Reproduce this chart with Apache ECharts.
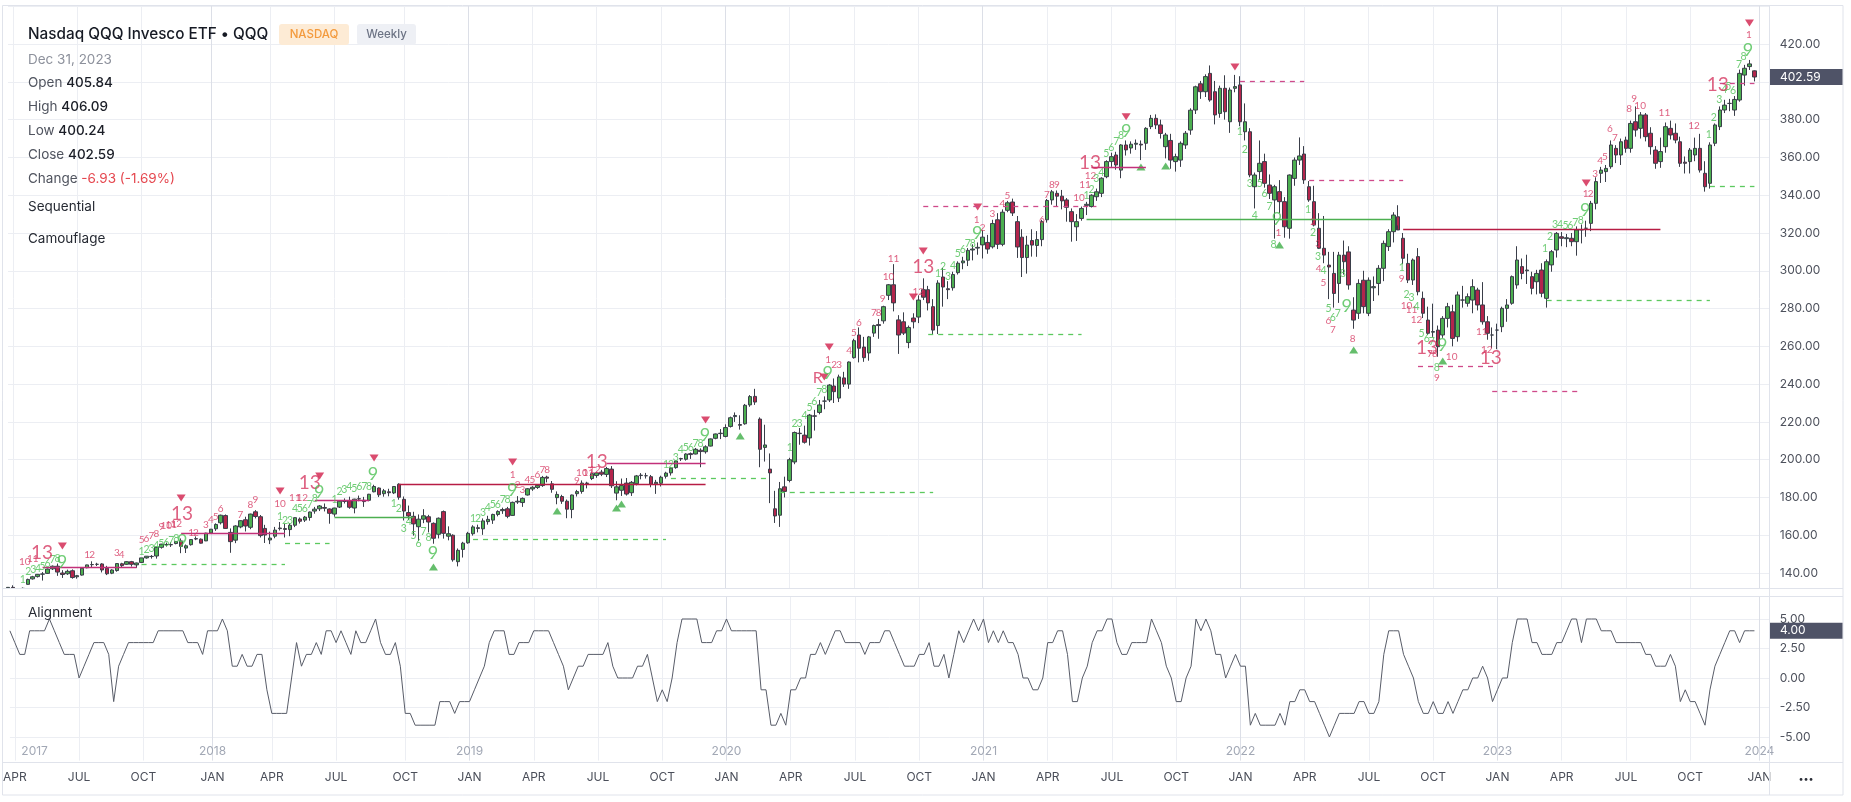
<!DOCTYPE html>
<html><head><meta charset="utf-8">
<script src="https://cdn.jsdelivr.net/npm/echarts@6/dist/echarts.min.js"></script>
<style>html,body{margin:0;padding:0;background:#fff;overflow:hidden}#c{width:1851px;height:802px}</style>
</head><body><div id="c"></div>
<script>
// ---------- DATA ----------
const firstWeek = '2017-03-26';   // weekly bars, dated by week start (Sunday)
const weekSlots = 357;            // bars + empty future weeks on the right
const monthNames = ['JAN','FEB','MAR','APR','MAY','JUN','JUL','AUG','SEP','OCT','NOV','DEC'];
const yearTicks = [['2017-04-30','2017'],['2018-01-07','2018'],['2019-01-06','2019'],['2020-01-05','2020'],['2021-01-03','2021'],['2022-01-02','2022'],['2023-01-01','2023'],['2024-01-07','2024']];
const priceTicks = [140,160,180,200,220,240,260,280,300,320,340,360,380,400,420];
const alignTicks = [-5,-2.5,0,2.5,5];

// [open, high, low, close]
const bars2017 = [
[131.0,132.5,130.5,132.4],[132.4,133.5,131.2,131.8],[131.6,132.0,129.9,130.1],[130.3,132.3,129.8,131.9],[134.0,137.0,133.8,136.6],
[136.9,138.5,136.5,138.0],[138.1,139.5,137.6,139.3],[139.4,140.5,136.0,139.5],[139.8,142.4,139.5,142.1],[142.2,144.0,141.6,143.6],
[143.6,145.0,138.5,140.5],[140.0,141.5,137.4,139.2],[139.6,141.8,139.0,140.9],[141.2,141.9,137.0,137.6],[138.0,139.0,137.0,138.6],
[138.9,142.6,138.6,142.5],[142.8,144.4,142.5,144.3],[144.5,146.2,142.7,144.4],[144.6,145.4,143.7,144.6],[144.8,145.2,140.3,141.6],
[142.5,143.8,138.9,139.6],[139.9,142.0,139.4,141.6],[141.3,145.2,140.7,145.0],[144.9,145.4,143.2,143.9],[144.6,146.3,144.3,146.0],
[146.0,146.4,143.4,144.6],[144.3,145.5,142.7,145.3],[145.6,148.0,145.3,148.0],[148.0,149.0,147.6,148.9],[148.8,149.5,147.6,148.7],
[149.0,153.8,147.6,153.6],[153.6,155.4,152.9,155.3],[155.0,156.1,154.0,155.1],[154.9,156.2,153.8,155.1],[155.6,156.9,155.2,156.7],
[157.0,158.3,150.5,154.1],[153.2,155.1,150.6,154.4],[155.0,157.8,154.5,157.7],[158.2,159.4,157.4,158.0],[157.9,158.3,155.6,155.8],
[157.0,161.3,156.9,161.1]];
const bars2018 = [
[161.2,163.3,160.7,163.2],[163.4,166.3,162.3,165.7],[166.6,170.9,165.7,170.6],[170.4,171.0,163.3,163.6],[161.5,163.6,150.7,156.6],
[157.4,165.3,155.8,164.9],[164.4,167.9,163.7,167.7],[168.2,169.8,162.0,164.9],[164.2,171.4,163.2,171.2],[172.4,173.3,168.9,169.9],
[169.8,170.7,158.8,159.8],[163.6,165.5,155.9,160.1],[157.5,161.9,155.3,158.5],[159.5,164.4,158.4,162.7],[163.8,167.0,162.5,163.5],
[163.5,166.0,158.8,163.1],[163.0,166.3,159.5,165.3],[165.3,169.5,164.3,169.3],[168.6,169.4,166.2,167.4],[168.0,170.2,167.0,169.6],
[169.4,172.5,167.7,172.3],[172.8,175.0,171.4,173.8],[174.0,176.0,172.8,175.5],[174.7,176.8,172.6,174.3],[173.9,174.2,166.1,171.6],
[171.2,174.5,169.8,174.4],[174.9,178.2,174.4,178.0],[177.9,179.5,176.8,177.9],[178.3,180.4,174.0,174.8],[174.4,179.3,171.6,179.1],
[179.3,181.0,178.0,179.2],[178.5,180.3,175.0,177.8],[178.5,181.9,178.0,181.7],[183.0,186.7,182.7,185.8],[185.0,185.3,180.2,181.4],
[182.0,184.5,180.4,183.5],[183.0,184.6,180.6,182.5],[182.4,186.0,181.8,185.8],[187.0,187.5,178.8,180.1],[179.0,180.5,167.8,172.8],
[172.0,175.7,168.0,170.2],[170.0,172.4,159.8,166.0],[164.5,171.0,157.0,168.5],[168.5,173.8,166.4,170.3],[169.8,170.8,161.5,167.0],
[166.3,166.8,155.5,158.4],[160.5,169.4,158.3,169.0],[172.5,173.1,158.2,161.0],[159.5,164.7,157.3,160.8],[160.0,160.5,146.0,147.0],
[146.0,153.0,143.5,152.0],[152.5,156.5,148.2,155.8]];
const bars2019 = [
[156.0,161.8,155.5,161.0],[160.8,165.3,159.8,164.4],[164.0,165.6,161.5,163.6],[163.4,168.9,160.2,167.6],[167.2,170.3,165.6,168.4],
[168.0,171.4,166.0,171.0],[171.0,173.2,170.0,172.6],[173.0,174.6,171.3,173.6],[174.0,175.0,169.0,170.0],[170.5,177.8,170.3,177.4],
[177.6,180.7,176.6,178.0],[177.3,180.0,175.0,179.5],[181.3,185.0,181.0,184.6],[184.5,186.0,183.5,185.4],[185.3,186.9,184.5,186.4],
[186.3,191.4,185.6,190.6],[190.8,191.5,188.0,190.2],[187.2,188.7,182.5,184.3],[179.9,183.2,176.4,181.6],[180.5,181.4,176.6,178.0],
[178.0,178.9,169.0,173.8],[173.6,181.5,169.0,181.3],[182.0,184.0,180.5,183.1],[183.2,189.0,182.0,187.6],[187.6,188.3,184.8,187.4],
[190.0,193.3,189.2,192.6],[191.6,193.6,190.4,193.0],[193.4,194.6,191.3,192.3],[192.2,196.2,190.8,195.3],[195.0,196.6,185.0,186.2],
[182.3,188.6,178.5,185.6],[183.8,190.0,180.8,186.3],[187.6,190.3,181.0,181.8],[182.5,188.7,180.8,188.0],[187.3,191.9,186.4,191.4],
[191.6,192.9,189.6,191.8],[191.5,193.0,190.0,191.5],[191.0,191.9,185.4,187.0],[187.2,189.3,181.9,188.0],[187.5,191.5,185.8,190.7],
[191.2,193.6,190.0,192.9],[193.0,196.0,191.6,195.5],[195.8,199.5,195.2,199.3],[200.4,201.0,199.3,200.6],[200.2,203.4,199.5,203.0],
[203.2,203.8,200.4,202.7],[203.0,206.2,202.8,205.5],[205.0,206.0,196.0,204.3],[204.2,207.6,203.2,206.8],[207.2,211.2,207.0,211.0],
[211.3,213.8,210.8,213.6],[213.8,216.2,210.9,214.0]];
const bars2020 = [
[212.3,218.7,211.8,217.0],[217.6,222.8,217.0,222.2],[222.8,225.0,220.0,223.4],[218.6,223.5,215.9,218.2],[219.0,229.5,218.5,228.8],
[229.0,234.2,228.0,233.4],[233.5,237.5,229.0,230.5],[221.5,222.4,196.0,205.5],[206.5,218.5,199.0,207.8],[195.0,203.3,177.0,193.0],
[174.0,183.5,166.5,170.2],[170.6,188.2,164.4,184.6],[185.6,191.0,180.0,183.2],[189.0,201.0,188.0,200.0],[198.8,214.9,197.6,214.4],
[213.8,216.8,207.9,214.0],[213.0,218.0,208.5,209.2],[211.5,224.2,207.5,223.6],[223.2,226.4,215.4,223.0],[225.0,231.6,224.0,229.0],
[231.0,233.5,226.7,231.0],[231.6,240.0,230.5,239.5],[239.0,243.0,230.0,236.0],[232.6,245.0,230.5,243.8],[243.3,246.5,238.5,240.0],
[240.0,252.0,237.5,251.7],[254.0,264.0,253.5,263.0],[266.0,270.0,251.5,259.0],[259.6,265.0,251.8,254.0],[256.5,265.5,252.4,265.0],
[267.0,271.5,265.0,271.0],[271.5,274.5,264.0,271.0],[273.5,281.5,272.0,281.0],[287.0,293.0,284.5,292.6],[292.6,303.5,278.5,283.0],
[274.0,276.5,256.0,266.0],[273.0,278.0,266.0,267.0],[262.0,271.0,259.0,270.0],[275.0,277.5,269.5,273.0],[275.5,287.0,272.3,284.5],
[290.0,296.0,284.5,286.0],[290.0,292.0,279.0,283.0],[281.0,285.0,266.5,268.6],[271.0,295.0,266.5,293.5],[296.7,301.5,281.0,291.4],
[290.5,294.5,285.0,290.0],[291.0,299.5,289.5,298.0],[299.0,305.0,298.0,304.0],[304.2,307.4,300.8,305.2],[305.6,312.0,302.5,310.8],
[311.0,314.0,305.5,311.5],[312.0,315.0,308.5,312.4]];
const bars2021 = [
[313.7,321.5,306.5,317.8],[315.0,319.0,309.0,311.5],[312.7,327.0,311.8,325.0],[327.0,330.5,311.5,314.0],[314.0,332.5,313.0,331.0],
[332.0,337.0,331.0,336.0],[336.4,338.2,329.0,330.6],[326.0,329.0,306.8,312.6],[317.8,322.0,296.7,307.0],[307.0,318.5,298.5,313.6],
[316.0,322.0,307.5,313.6],[313.4,321.0,307.4,316.5],[316.5,327.0,313.0,326.0],[327.0,338.0,325.5,337.2],[337.5,342.8,335.0,341.8],
[341.0,342.5,334.0,339.5],[339.5,342.8,332.5,337.0],[337.5,338.5,326.0,333.6],[331.3,333.0,315.4,326.0],[323.3,330.0,315.8,326.0],
[327.7,334.0,326.5,333.0],[334.6,336.5,329.5,335.2],[334.0,340.5,333.5,340.0],[339.2,343.5,337.0,341.8],[341.0,349.5,339.0,349.0],
[349.8,358.5,349.0,357.8],[357.8,362.5,355.0,360.4],[361.3,363.0,353.5,356.0],[353.3,367.0,349.0,366.6],[366.6,369.0,361.0,364.0],
[365.0,368.5,362.0,367.0],[367.0,369.5,364.0,367.5],[367.0,369.0,358.6,366.6],[367.5,376.0,364.0,375.4],[376.3,382.5,375.0,380.7],
[380.7,382.8,375.0,377.2],[377.2,380.0,370.0,372.7],[365.7,373.0,359.5,371.9],[369.0,372.5,354.0,358.6],[357.8,362.0,352.5,360.4],
[358.6,368.5,355.0,367.5],[366.6,374.0,364.5,372.8],[374.5,386.0,372.0,385.0],[385.1,398.0,383.0,397.4],[399.0,400.5,391.0,394.8],
[394.8,404.0,392.0,402.8],[404.5,408.7,389.5,390.4],[394.8,400.5,377.5,382.5],[383.3,398.0,381.0,396.6],[396.6,403.5,380.0,384.2],
[378.9,397.0,373.0,395.7],[396.6,403.7,394.5,397.5]];
const bars2022 = [
[398.4,403.0,376.5,378.9],[373.6,388.6,369.0,378.9],[373.6,375.5,349.5,350.7],[344.5,352.0,333.0,350.7],[352.5,369.0,348.0,356.9],
[357.8,362.0,344.0,346.3],[345.4,351.0,338.0,341.0],[337.5,345.5,317.0,344.5],[341.9,348.0,330.5,336.6],[336.6,339.0,317.5,323.3],
[322.5,351.0,317.0,350.7],[348.9,360.0,345.0,358.6],[358.6,370.6,356.0,360.8],[361.8,366.0,346.0,348.1],[344.5,347.5,336.5,337.5],
[336.6,345.0,323.5,324.2],[322.5,330.5,311.5,311.9],[311.9,329.0,304.0,308.3],[303.0,310.0,285.0,302.0],[298.6,310.0,280.5,288.0],
[293.3,310.0,283.0,308.3],[308.3,316.0,298.0,304.8],[310.0,313.0,290.0,292.5],[279.2,286.0,269.3,273.9],[277.5,295.5,274.5,293.3],
[295.0,300.0,277.5,281.0],[277.5,296.5,276.0,295.0],[291.0,297.0,284.0,291.6],[293.3,303.0,287.0,301.3],[301.3,316.0,294.5,314.5],
[312.8,322.0,310.5,320.7],[320.7,331.0,315.0,329.5],[328.6,334.7,324.0,321.6],[317.2,320.0,303.5,306.6],[303.9,309.0,293.5,295.1],
[295.1,306.5,292.5,305.7],[307.5,312.0,287.0,288.9],[285.4,289.0,275.0,277.5],[273.9,281.0,266.0,266.9],[267.5,282.6,265.0,267.8],
[268.6,271.0,254.5,259.8],[266.0,276.0,264.5,274.8],[274.8,283.0,270.0,281.0],[278.3,282.0,260.0,264.2],[265.1,289.0,262.5,287.2],
[284.5,292.0,280.5,284.5],[282.8,288.0,281.0,286.3],[284.5,295.5,277.5,291.6],[289.8,291.0,279.0,281.9],[281.9,294.0,271.5,273.0],
[273.0,276.0,263.5,266.9],[266.0,270.0,259.0,266.0]];
const bars2023 = [
[268.6,272.0,258.5,268.6],[270.4,281.0,267.5,280.1],[280.1,285.0,273.0,281.9],[282.8,297.5,282.0,296.9],[292.5,313.0,290.5,305.7],
[302.2,306.5,295.5,298.6],[300.0,308.5,293.0,300.4],[296.9,299.5,287.5,290.7],[294.2,300.5,287.5,298.6],[300.4,304.0,286.0,288.1],
[285.4,306.0,280.5,304.8],[303.1,311.0,299.5,310.1],[311.0,320.5,307.0,319.8],[318.0,320.5,313.0,317.2],[317.0,319.5,312.5,317.5],
[317.2,320.0,313.0,315.4],[315.4,323.5,308.0,321.6],[321.6,324.5,314.5,321.8],[322.5,326.5,318.0,322.5],[325.1,337.0,321.0,335.7],
[335.7,349.5,332.5,347.2],[351.6,355.0,346.5,353.3],[352.5,356.0,347.0,354.2],[355.1,369.0,354.0,366.6],[364.8,366.5,357.0,361.3],
[361.3,370.0,356.0,368.3],[369.2,371.0,362.5,364.8],[364.8,379.5,362.5,378.0],[378.9,387.0,371.0,374.5],[375.4,384.0,370.0,382.5],
[382.5,383.5,368.5,371.0],[372.8,376.0,361.5,365.7],[363.9,366.0,354.0,356.9],[357.8,370.5,354.5,363.1],[365.7,378.5,362.5,376.3],
[375.4,379.5,369.5,371.9],[372.8,378.0,367.5,369.2],[368.3,371.0,355.0,356.9],[357.5,360.5,351.5,356.9],[357.8,365.0,351.5,363.9],
[361.3,370.5,358.0,364.8],[364.8,372.5,352.0,353.3],[351.6,358.0,341.9,344.5],[346.3,368.0,343.5,366.6],[367.5,378.0,366.0,377.2],
[376.3,387.0,374.5,385.1],[385.1,390.5,383.5,387.7],[388.6,391.0,384.5,388.6],[385.1,392.5,382.0,390.7],[390.4,406.5,389.5,404.5],
[403.6,409.0,398.0,407.2],[408.1,411.6,406.3,409.52],[405.84,406.09,400.24,402.59]];

// Alignment indicator, one value per week
const align2017 = [4,3,2,2,4,4,4,4,5,4,3,2,2,2,0,1,2,3,3,3,2,-2,1,2,3,3,3,3,3,3,4,4,4,4,4,4,3,3,3,2,4];
const align2018 = [4,4,5,4,1,1,2,1,1,2,2,-1,-3,-3,-3,-3,0,3,1,2,2,3,2,4,4,3,4,3,2,4,3,3,4,5,3,2,2,3,1,-3,-3,-4,-4,-4,-4,-4,-2,-2,-2,-3,-2,-2];
const align2019 = [-2,-1,0,1,3,4,4,4,2,2,3,3,3,4,4,4,4,3,2,1,-1,0,1,1,2,2,2,2,3,1,0,0,0,0,1,1,2,0,-2,-1,-2,0,3,5,5,5,5,3,3,3,4,4];
const align2020 = [5,4,4,4,4,4,4,-1,-1,-4,-4,-3,-4,-1,-1,0,0,2,2,3,2,3,4,4,3,3,3,3,2,3,3,3,4,4,3,2,1,1,1,2,2,3,1,1,2,0,2,4,3,4,5,4];
const align2021 = [5,3,4,3,4,3,3,2,0,0,-1,-1,0,3,3,4,4,2,-2,-2,0,1,3,4,4,5,5,3,2,2,3,3,3,3,5,4,3,1,0,-2,-2,0,1,5,4,5,4,2,2,0,1,2];
const align2022 = [1,1,-4,-3,-4,-4,-4,-4,-3,-4,-2,-2,-1,-1,-2,-2,-3,-4,-5,-4,-3,-3,-3,-3,-2,-2,-3,-3,-2,2,4,4,4,2,1,0,-2,-3,-3,-2,-3,-3,-2,-3,-2,-1,-1,0,0,1,0,-2];
const align2023 = [-1,0,0,3,5,5,5,3,3,2,2,2,3,3,4,5,5,3,5,5,5,4,4,4,3,3,3,3,3,3,2,2,1,1,1,2,1,-2,-1,-2,-2,-3,-4,-1,1,2,3,4,4,3,4,4,4];

// Sequential overlays: [startWeek, endWeek, price] (week = bar number from the first bar)
const resistSolid = [[7,26,143.0],[35,56,161.0],[62,73,178.6],[121,141,198.1],[219,230,354.8]];
const resistSolidDark = [[79,141,187.0],[282,334,322.0]];
const supportSolid = [[66,82,169.3],[218,280,327.2]];
const supportDashed = [[27,56,144.8],[56,65,156.0],[94,133,158.0],[134,154,190.1],[156,187,182.7],[186,217,266.4],[311,344,284.5],[344,353,344.5]];
const resistDashed = [[185,220,334.2],[249,262,400.4],[263,282,348.0],[285,301,249.2],[300,318,236.3],[346,353,399.5]];
// [week, price]
const sellArrows = [[11,154.3],[35,179.7],[55,183.4],[63,191.4],[74,200.9],[102,198.8],[141,221.0],[166,259.6],[165,243.8],[185,310.5],[183,286.1],[196,333.8],[226,381.5],[248,407.9],[319,346.5],[352,431.2]];
const buyArrows = [[86,143.2],[111,172.8],[123,174.4],[124,176.5],[148,212.5],[229,354.9],[234,355.5],[257,313.6],[272,258.1],[290,252.2]];
const countdown13 = [[6.9,150.6],[35.2,171.2],[61,187.6],[119,198.8],[185,302.0],[218.7,357.0],[286.8,259.1],[299.7,253.8],[345.6,398.3]];
const setup9 = [[10.9,145.8],[35.2,156.9],[62.9,182.9],[73.8,192.4],[85.9,150.6],[101.9,183.9],[140.9,213.1],[165.7,245.9],[195.9,320.0],[226,374.0],[256.5,327.4],[270.6,281.3],[289.9,260.7],[318.8,332.2],[351.7,416.9]];
const riskMarks = [[163.7,243.2,'R']];
// small sequential counts: [week, price, text]
const redCounts = [
[3.4,146.2,'10'],[5,147.6,'11'],[16,149.5,'1'],[17,149.5,'2'],[22,150.7,'3'],[23,149.9,'4'],
[27,157.5,'5'],[28,158.3,'6'],[29,159.6,'7'],[30,161,'8'],[31,164.6,'9'],[32,165,'10'],[33,165.6,'11'],[34,166.2,'12'],
[37,161.3,'1'],[38,161.3,'2'],[40,165.4,'3'],[41,168,'4'],[42,169.8,'5'],[43,174.2,'6'],[47,170.7,'7'],[49,176,'8'],[50,178.6,'9'],[55,176.4,'10'],[58,179.9,'11'],[59.5,179.9,'12'],
[102,191.9,'1'],[103,186.6,'2'],[104,184.3,'3'],[105,189.2,'4'],[106,189.2,'5'],[107,191.9,'6'],[108,194.5,'7'],[109,194.5,'8'],[115,188.9,'9'],[116,193.3,'10'],[117.3,193.3,'11'],[118.6,194.5,'12'],
[165.8,252.8,'1'],[167,250.1,'2'],[168,250.1,'3'],[170,257.5,'4'],[171,267.2,'5'],[172,272.5,'6'],[175,277.8,'7'],[176,277.8,'8'],[176.8,285.4,'9'],[178,296.9,'10'],[179,306.2,'11'],[184,289,'12'],
[195.8,326.9,'1'],[197,322.5,'2'],[199,330.4,'3'],[201,335.3,'4'],[202,339.7,'5'],[209,327.2,'6'],[210,340.1,'7'],[211,345.4,'8'],[212,345.4,'9'],[216.5,338.7,'10'],[217.7,345.4,'11'],[218.8,350.2,'12'],
[256.8,320.1,'1'],[263.8,326,'2'],[264.8,314.2,'3'],[264.9,300.8,'4'],[265.9,293.7,'5'],[266.9,273.6,'6'],[267.8,268.6,'7'],[271.8,264.2,'8'],[281.7,296,'9'],[282.7,281.3,'10'],[283.7,279.2,'11'],[284.7,274.3,'12'],
[287.4,255.8,'7'],[288.4,255.8,'8'],[288.8,243.1,'9'],[291.8,254.5,'10'],[297.9,267.7,'11'],[298.9,258,'12'],
[318.9,340.6,'1'],[319.9,340.6,'2'],[320.8,351.6,'3'],[321.8,358.3,'4'],[322.8,360.4,'5'],[323.8,375.4,'6'],[324.8,370.6,'7'],[327.7,385.6,'8'],[328.7,390.9,'9'],[329.9,387.2,'10'],[334.8,383.7,'11'],[340.8,376.6,'12'],
[351.9,424.8,'1']];
const greenCounts = [
[3,136.3,'1'],[4.1,140.7,'2'],[5.1,141.6,'3'],[6.1,142.1,'4'],[7,143.3,'5'],[8,144.8,'6'],[9,146.9,'7'],[10,147.4,'8'],
[27,151.3,'1'],[28,152.2,'2'],[29,153,'3'],[30,154.4,'4'],[31,155.7,'5'],[32,156,'6'],[33,156.9,'7'],[34,158.3,'8'],
[55,169.8,'1'],[56,168,'2'],[57,168,'3'],[58,174.2,'4'],[59,174.2,'5'],[60,174.2,'6'],[61,176,'7'],[62,179.5,'8'],
[66,178.6,'1'],[67,183,'2'],[68,184,'3'],[69,185.7,'4'],[70,184.8,'5'],[71,185.7,'6'],[72,186,'7'],[73,186,'8'],
[78,176.5,'1'],[79,174.2,'2'],[80,163.3,'3'],[81,167,'4'],[82,159.7,'5'],[83,155.4,'6'],[84,161.9,'7'],[85,158.7,'8'],
[94,169,'1'],[95,169,'2'],[96,171.9,'3'],[97,174.8,'4'],[98,176.2,'5'],[99,176.2,'6'],[100,178.6,'7'],[101,178.6,'8'],
[133,197.5,'1'],[134,197.5,'2'],[135,201.3,'3'],[136,205.2,'4'],[137,206.6,'5'],[138,206.6,'6'],[139,208.7,'7'],[140,208.7,'8'],
[158,206.3,'1'],[159,219.2,'2'],[160,219.2,'3'],[161,223.3,'4'],[162,227.7,'5'],[163,230.7,'6'],[164,235.7,'7'],[165,237.3,'8'],
[188,298.3,'1'],[189,302.1,'2'],[190,296.9,'3'],[191,302.9,'4'],[192,308.9,'5'],[193,311.4,'6'],[194,314.2,'7'],[195,314.2,'8'],
[218,340,'1'],[219,343,'2'],[220,348.9,'3'],[221,352,'4'],[222,361.8,'5'],[223,365.3,'6'],[224,368.3,'7'],[225,371.3,'8'],
[249,373.9,'1'],[250,364,'2'],[251,345.9,'3'],[252,329.2,'4'],[253,346.3,'5'],[254,340.6,'6'],[255,334,'7'],[255.8,313.7,'8'],
[262.8,332.5,'1'],[263.8,320,'2'],[264.8,307.5,'3'],[265.9,300,'4'],[266.9,280.1,'5'],[267.8,275,'6'],[268.8,277.2,'7'],[269.8,298.7,'8'],
[281.7,301.8,'1'],[282.7,287.2,'2'],[283.7,285.8,'3'],[284.7,281,'4'],[285.7,266.9,'5'],[286.8,264,'6'],[287.8,262.4,'7'],[288.8,249,'8'],
[310.7,311.9,'1'],[311.7,318.1,'2'],[312.7,324.6,'3'],[313.7,324.6,'4'],[314.8,324,'5'],[315.8,324,'6'],[316.8,325.3,'7'],[317.9,326.7,'8'],
[343.8,371.9,'1'],[344.8,381.2,'2'],[345.9,390.4,'3'],[346.9,396.1,'4'],[347.7,397.5,'5'],[348.7,395.4,'6'],[349.9,409,'7'],[350.8,413.4,'8']];

// ---------- BUILD ----------
const bars = [].concat(bars2017,bars2018,bars2019,bars2020,bars2021,bars2022,bars2023);
const alignment = [].concat(align2017,align2018,align2019,align2020,align2021,align2022,align2023);
const dates = [];
{ let t = Date.parse(firstWeek + 'T00:00:00Z'); for (let i=0;i<weekSlots;i++){ dates.push(new Date(t).toISOString().slice(0,10)); t += 7*864e5; } }
const monthOf = s => +s.slice(5,7)-1;
const isQuarter = (i) => i>0 && monthOf(dates[i])!==monthOf(dates[i-1]) && monthOf(dates[i])%3===0;
const yearMap = {}; yearTicks.forEach(([d,y])=>yearMap[d]=y);
const candleData = bars.map(b=>[b[0],b[3],b[2],b[1]]);

const FONT = 'Inter, "Noto Sans", sans-serif';
const LFONT = 'Lato, "Noto Sans", sans-serif';
const GREEN = '#4caf50', RED = '#b3254c', EDGE = '#3a3e49';
const gridLine = '#eceef3', yearLine = '#dcdfe7';
const RTXT = '#d63862', GTXT = '#4cc054';

function seg(list, color, type, width){
  return list.map(([a,b,p]) => [{coord:[dates[a],p], lineStyle:{color, type, width}}, {coord:[dates[b],p]}]);
}
const markLines = [].concat(
  seg(resistSolid,'#c2307a','solid',1.3),
  seg(resistSolidDark,'#b71c44','solid',1.3),
  seg(supportSolid,'#4caf50','solid',1.3),
  seg(supportDashed,'#5cc95f',[5,5],1.3),
  seg(resistDashed,'#cf4a8a',[5,5],1.3)
);
const textPts = (list, txt) => list.map(([i,p,t]) => ({value:[i,p], label:{formatter: t||txt}}));
const textSeries = (data, color, size) => ({type:'scatter', xAxisIndex:3, yAxisIndex:0, symbolSize:0, z:5, silent:true,
  label:{show:true, position:'inside', color, fontSize:size, fontFamily:LFONT}, data});

const chart = echarts.init(document.getElementById('c'));
const option = {
  animation:false,
  backgroundColor:'#ffffff',
  grid:[
    {left:7.97, top:5, width:1761.3, height:586.9},
    {left:7.97, top:597, width:1761.3, height:163.6}
  ],
  xAxis:[
    {type:'category', gridIndex:0, data:dates, boundaryGap:false,
     axisLine:{show:false}, axisTick:{show:false}, axisLabel:{show:false},
     splitLine:{show:true, interval:isQuarter, lineStyle:{color:[gridLine,gridLine,gridLine,yearLine], width:1}}},
    {type:'category', gridIndex:1, data:dates, boundaryGap:false, position:'bottom',
     axisLine:{show:false}, axisTick:{show:false},
     axisLabel:{show:true, interval:isQuarter, formatter:(v)=>monthNames[monthOf(v)], margin:11, color:'#4a4e59', fontSize:12, fontFamily:FONT},
     splitLine:{show:true, interval:isQuarter, lineStyle:{color:[gridLine,gridLine,gridLine,yearLine], width:1}}},
    {type:'category', gridIndex:1, data:dates, boundaryGap:false, position:'bottom',
     axisLine:{show:false}, axisTick:{show:false}, splitLine:{show:false},
     axisLabel:{show:true, inside:true, interval:(i,v)=>yearMap[v]!==undefined, formatter:(v)=>yearMap[v]||'', margin:3, color:'#a2a8b5', fontSize:12, fontFamily:FONT}},
    {type:'value', gridIndex:0, min:0, max:weekSlots-1, show:false, splitLine:{show:false}}
  ],
  yAxis:[
    {type:'value', gridIndex:0, position:'right', min:130, max:440.7, interval:10,
     axisLine:{show:false}, axisTick:{show:false},
     axisLabel:{margin:10.5, color:'#4d515c', fontSize:12, fontFamily:FONT,
       formatter:(v)=> priceTicks.some(t=>Math.abs(t-v)<1e-6) ? v.toFixed(2) : ''},
     splitLine:{show:true, lineStyle:{color:['rgba(0,0,0,0)', gridLine]}}},
    {type:'value', gridIndex:1, position:'right', min:-7, max:6.864, interval:0.5,
     axisLine:{show:false}, axisTick:{show:false},
     axisLabel:{margin:10.5, color:'#4d515c', fontSize:12, fontFamily:FONT,
       formatter:(v)=> alignTicks.some(t=>Math.abs(t-v)<1e-6) ? v.toFixed(2) : ''},
     splitLine:{show:true, lineStyle:{color:['rgba(0,0,0,0)','rgba(0,0,0,0)','rgba(0,0,0,0)','rgba(0,0,0,0)', gridLine]}}}
  ],
  series:[
    {type:'candlestick', xAxisIndex:0, yAxisIndex:0, data:candleData, barWidth:4,
     itemStyle:{color:GREEN, color0:RED, borderColor:EDGE, borderColor0:EDGE, borderWidth:1},
     markLine:{silent:true, symbol:['none','none'], label:{show:false}, animation:false, data:markLines}},
    {type:'scatter', xAxisIndex:3, yAxisIndex:0, symbol:'triangle', symbolRotate:180, symbolSize:[9,7],
     itemStyle:{color:'#d11f4b'}, data:sellArrows, z:4, silent:true},
    {type:'scatter', xAxisIndex:3, yAxisIndex:0, symbol:'triangle', symbolSize:[9,7],
     itemStyle:{color:'#3fae47'}, data:buyArrows, z:4, silent:true},
    textSeries(textPts(redCounts), RTXT, 10),
    textSeries(textPts(greenCounts), GTXT, 10.5),
    textSeries(textPts(countdown13,'13'), RTXT, 19),
    textSeries(textPts(setup9,'9'), GTXT, 18),
    textSeries(riskMarks.map(([i,p,t])=>({value:[i,p], label:{formatter:t}})), RTXT, 16),
    {type:'line', xAxisIndex:1, yAxisIndex:1, data:alignment, showSymbol:false, symbol:'none',
     lineStyle:{color:'#585c68', width:1}, z:3}
  ]
};
chart.setOption(option);

// ---------- header texts / frame / price tags ----------
const last = bars[bars.length-1], prev = bars[bars.length-2];
const chg = last[3]-prev[3], pct = chg/prev[3]*100;
const yPrice = chart.convertToPixel({yAxisIndex:0}, last[3]);
const yAlign = chart.convertToPixel({yAxisIndex:1}, alignment[alignment.length-1]);
const frameC = '#e0e3eb';
const L = (x1,y1,x2,y2,z)=>({type:'line', z:z||60, silent:true, shape:{x1,y1,x2,y2}, style:{stroke:frameC, lineWidth:1}});
const T = (x,y,text,style)=>({type:'text', z:70, silent:true, x, y, style:Object.assign({text, fontFamily:FONT, fontSize:13.5, fill:'#1f222b', verticalAlign:'middle'}, style||{})});
const rich = {l:{fontFamily:FONT, fontSize:13.5, fill:'#50545f'}, v:{fontFamily:FONT, fontSize:13.5, fill:'#1b1e27', fontWeight:500}, r:{fontFamily:FONT, fontSize:13.5, fill:'#e5474f'}};
const sgn = v => (v<0?'-':'+') + Math.abs(v).toFixed(2);
const graphics = [
  {type:'rect', z:55, silent:true, shape:{x:3.5, y:588.5, width:1765, height:8}, style:{fill:'#ffffff'}},
  {type:'rect', z:60, silent:true, shape:{x:2.5, y:5.5, width:1840.5, height:789.5}, style:{fill:'none', stroke:frameC, lineWidth:1}},
  L(3,588.5,1843,588.5), L(3,596.5,1843,596.5), L(3,762.5,1843,762.5), L(1769.5,5,1769.5,795),
  T(28,34,'Nasdaq QQQ Invesco ETF \u2022 QQQ',{fontSize:15.3, fill:'#161a24', fontWeight:500}),
  {type:'rect', z:65, silent:true, shape:{x:279, y:24, width:70, height:21, r:3}, style:{fill:'#fdebd5'}},
  T(314,34.5,'NASDAQ',{fontSize:11.5, fill:'#f39a3d', fontWeight:500, align:'center'}),
  {type:'rect', z:65, silent:true, shape:{x:357, y:24, width:59, height:21, r:3}, style:{fill:'#eef0f5'}},
  T(386.5,34.5,'Weekly',{fontSize:11.5, fill:'#6c7384', fontWeight:500, align:'center'}),
  T(28,60,'Dec 31, 2023',{fill:'#8d919c'}),
  T(28,83,'{l|Open} {v|'+last[0].toFixed(2)+'}',{rich}),
  T(28,107,'{l|High} {v|'+last[1].toFixed(2)+'}',{rich}),
  T(28,131,'{l|Low} {v|'+last[2].toFixed(2)+'}',{rich}),
  T(28,155,'{l|Close} {v|'+last[3].toFixed(2)+'}',{rich}),
  T(28,179,'{l|Change} {r|'+sgn(chg)+' ('+sgn(pct)+'%)}',{rich}),
  T(28,207,'Sequential',{fill:'#262a33'}),
  T(28,239,'Camouflage',{fill:'#262a33'}),
  T(28,613,'Alignment',{fill:'#262a33'}),
  {type:'rect', z:65, silent:true, shape:{x:1770, y:yPrice-8, width:72.5, height:16}, style:{fill:'#4f5367'}},
  T(1780,yPrice,last[3].toFixed(2),{fontSize:12, fill:'#ffffff'}),
  {type:'rect', z:65, silent:true, shape:{x:1770, y:yAlign-8, width:72.5, height:16}, style:{fill:'#4f5367'}},
  T(1780,yAlign,alignment[alignment.length-1].toFixed(2),{fontSize:12, fill:'#ffffff'}),
  T(1806,779,'\u2022\u2022\u2022',{fontSize:9, fill:'#2a2d36', align:'center', letterSpacing:2})
];
chart.setOption({graphic:graphics});
</script>
</body></html>
